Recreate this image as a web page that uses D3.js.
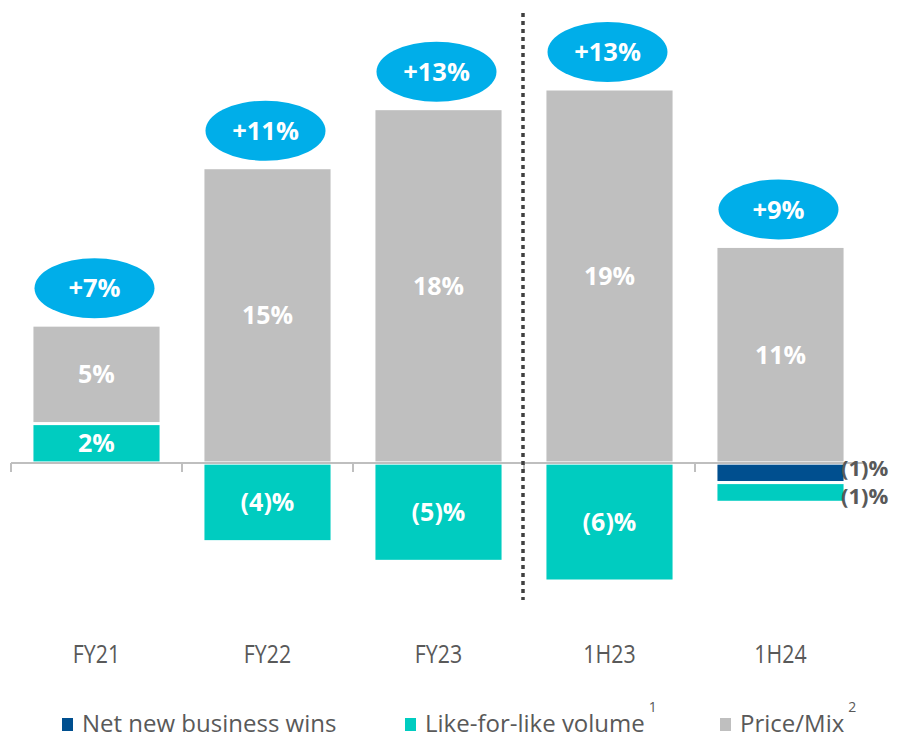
<!DOCTYPE html>
<html>
<head>
<meta charset="utf-8">
<script src="https://cdn.jsdelivr.net/npm/d3@7"></script>
<style>
  html, body { margin: 0; padding: 0; background: #fff; }
  svg { display: block; font-family: "Open Sans", "Noto Sans", sans-serif; }
</style>
</head>
<body>
<div id="chart"></div>
<script>
/* ═══ Organic growth bridge — stacked diverging bars ═══ */

const categories = ['FY21', 'FY22', 'FY23', '1H23', '1H24'];
const netNewWins = [0, 0, 0, 0, -1];
const lflVolume  = [2, -4, -5, -6, -1];
const priceMix   = [5, 15, 18, 19, 11];
const totalLabels = ['+7%', '+11%', '+13%', '+13%', '+9%'];

const seriesKeys  = ['netNew', 'lfl', 'price'];
const seriesNames = ['Net new business wins', 'Like-for-like volume', 'Price/Mix'];
const seriesSup   = ['', '1', '2'];
const COLORS = { netNew: '#004f8f', lfl: '#00ccc0', price: '#bfbfbf' };

const W = 899, H = 738;
const svg = d3.select('#chart').append('svg').attr('width', W).attr('height', H);

const rows = categories.map((c, i) => ({
  cat: c, netNew: netNewWins[i], lfl: lflVolume[i], price: priceMix[i], total: totalLabels[i]
}));

const stack = d3.stack().keys(seriesKeys).offset(d3.stackOffsetDiverging);
const layers = stack(rows);

const x = d3.scaleBand().domain(categories).range([11, 866]).paddingInner(0.245).paddingOuter(0.1225);
const y = d3.scaleLinear().domain([-6, 19]).range([581, 89]);

const fmt = v => v < 0 ? `(${-v})%` : `${v}%`;

// ── Bars ──
const layerG = svg.append('g').selectAll('g').data(layers).join('g')
  .attr('fill', d => COLORS[d.key]);

layerG.selectAll('rect').data(d => d.filter(s => s[1] - s[0] !== 0)).join('rect')
  .attr('x', d => x(d.data.cat))
  .attr('width', x.bandwidth())
  .attr('y', d => y(d[1]))
  .attr('height', d => y(d[0]) - y(d[1]))
  .attr('stroke', '#fff').attr('stroke-width', 3);

// ── Axis line with category boundary ticks ──
const axisG = svg.append('g');
axisG.append('line')
  .attr('x1', x.range()[0]).attr('x2', x.range()[1])
  .attr('y1', y(0)).attr('y2', y(0))
  .attr('stroke', '#bfbfbf').attr('stroke-width', 2);
const bounds = categories.map(c => x(c) - x.step() * x.paddingInner() / 2).concat([x.range()[1]]);
bounds[0] = x.range()[0];
axisG.selectAll('line.tick').data(bounds).join('line').attr('class', 'tick')
  .attr('x1', d => d).attr('x2', d => d)
  .attr('y1', y(0)).attr('y2', y(0) + 9)
  .attr('stroke', '#bfbfbf').attr('stroke-width', 2);

// ── Segment labels (small ones sit outside, right of the bar) ──
layers.forEach((layer, li) => {
  layer.forEach(s => {
    const v = s.data[layer.key];
    if (!v) return;
    const cx = x(s.data.cat) + x.bandwidth() / 2;
    const cy = (y(s[0]) + y(s[1])) / 2;
    const inside = Math.abs(v) >= 2;
    svg.append('text')
      .attr('x', inside ? cx : x(s.data.cat) + x.bandwidth() - 4)
      .attr('y', inside ? cy : cy + (li === 0 ? -5 : 4)).attr('dy', '0.36em')
      .attr('text-anchor', inside ? 'middle' : 'start')
      .attr('font-size', inside ? '25px' : '22px').attr('font-weight', 700)
      .attr('fill', inside ? '#fff' : '#595959')
      .text(fmt(v));
  });
});

// ── Total bubbles ──
const bubble = svg.append('g').selectAll('g').data(rows).join('g')
  .attr('transform', d => `translate(${x(d.cat) + x.bandwidth() / 2 - 2},${y(d.lfl > 0 ? d.lfl + d.price : d.price) - 37})`);
bubble.append('ellipse').attr('rx', 60).attr('ry', 30).attr('fill', '#00aee9');
bubble.append('text')
  .attr('text-anchor', 'middle').attr('dy', '0.36em')
  .attr('font-size', '25.5px').attr('font-weight', 700).attr('fill', '#fff')
  .text(d => d.total);

// ── Dotted divider between annual and half-year ──
svg.append('line')
  .attr('x1', 523).attr('x2', 523).attr('y1', 13).attr('y2', 600)
  .attr('stroke', '#404040').attr('stroke-width', 3.5)
  .attr('stroke-dasharray', '4,4');

// ── Category labels (narrow face, so squeeze horizontally) ──
svg.append('g').selectAll('text').data(categories).join('text')
  .attr('transform', d => `translate(${x(d) + x.bandwidth() / 2},663) scale(0.82,1)`)
  .attr('text-anchor', 'middle')
  .attr('font-size', '26px').attr('fill', '#595959')
  .text(d => d);

// ── Legend ──
const legendX = [62, 405, 720];
const leg = svg.append('g').selectAll('g').data(seriesKeys).join('g')
  .attr('transform', (d, i) => `translate(${legendX[i]},724)`);
leg.append('rect').attr('x', 0).attr('y', -6).attr('width', 11).attr('height', 13)
  .attr('fill', d => COLORS[d]);
const legText = leg.append('text').attr('x', 20).attr('y', 8)
  .attr('font-size', '24px').attr('fill', '#595959')
  .text((d, i) => seriesNames[i]);
legText.append('tspan').attr('dx', 4).attr('dy', -20)
  .attr('font-size', '14px')
  .text((d, i) => seriesSup[i]);
</script>
</body>
</html>
